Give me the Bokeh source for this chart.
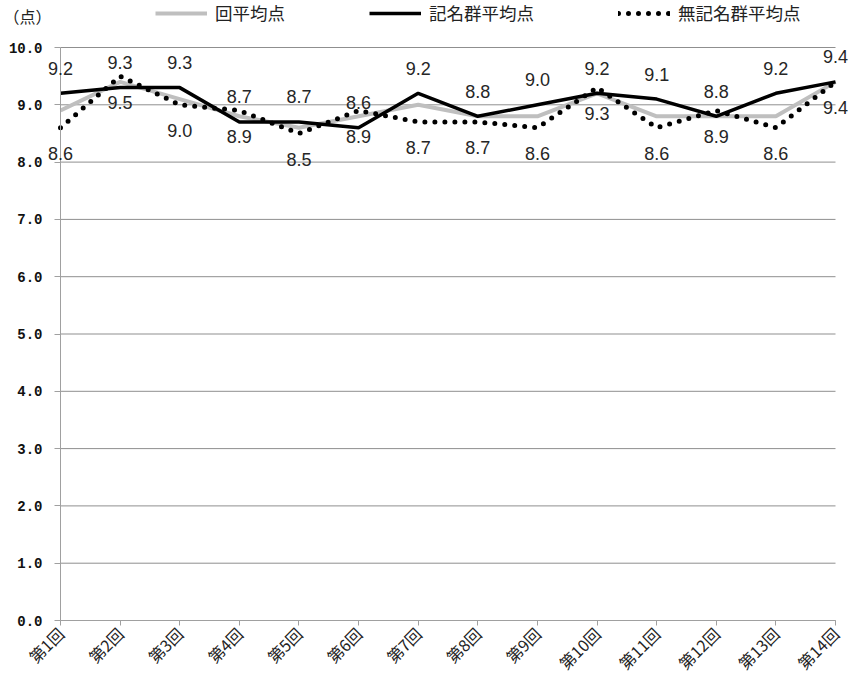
from math import pi

from bokeh.plotting import figure
from bokeh.models import (ColumnDataSource, Range1d, FixedTicker, LabelSet,
                          Legend, LegendItem, Label, NumeralTickFormatter)
from bokeh.core.properties import value
from bokeh.embed import file_html
from bokeh.resources import INLINE

# 回 (session) numbers and the three average-score series
rounds = list(range(1, 15))
round_labels = [f"第{n}回" for n in rounds]
avg_all = [8.9, 9.4, 9.1, 8.8, 8.6, 8.8, 9.0, 8.8, 8.8, 9.2, 8.8, 8.8, 8.8, 9.4]
avg_named = [9.2, 9.3, 9.3, 8.7, 8.7, 8.6, 9.2, 8.8, 9.0, 9.2, 9.1, 8.8, 9.2, 9.4]
avg_anon = [8.6, 9.5, 9.0, 8.9, 8.5, 8.9, 8.7, 8.7, 8.6, 9.3, 8.6, 8.9, 8.6, 9.4]
y_ticks = [0, 1, 2, 3, 4, 5, 6, 7, 8, 9, 10]

W, H = 851, 675
# pixel placement of the plotting area inside the page
left_px, right_px, top_px, bottom_px = 60, 835, 47, 620
x_lo, x_hi = rounds[0], rounds[-1]
y_lo, y_hi = y_ticks[0], y_ticks[-1]
sx = (right_px - left_px) / (x_hi - x_lo)
sy = (bottom_px - top_px) / (y_hi - y_lo)

src = ColumnDataSource(dict(
    x=rounds,
    all=avg_all,
    named=avg_named,
    anon=avg_anon,
    named_txt=[f"{v:.1f}" for v in avg_named],
    anon_txt=[f"{v:.1f}" for v in avg_anon],
))

p = figure(width=W, height=H, output_backend="svg", toolbar_location=None,
           x_range=Range1d(x_lo - left_px / sx, x_hi + (W - right_px) / sx),
           y_range=Range1d(y_lo - (H - bottom_px) / sy, y_hi + top_px / sy),
           min_border=0)
p.outline_line_color = None
p.background_fill_color = "white"
p.border_fill_color = "white"
p.xgrid.visible = False
p.ygrid.visible = False

# horizontal gridlines at every tick value, spanning the category extent
p.segment(x0=[x_lo] * len(y_ticks), x1=[x_hi] * len(y_ticks),
          y0=y_ticks, y1=y_ticks, line_color="#8f8f8f", line_width=1)

# axes pinned to the data origin
p.xaxis.fixed_location = y_lo
p.xaxis.bounds = (x_lo, x_hi)
p.xaxis.ticker = FixedTicker(ticks=rounds)
p.xaxis.major_label_overrides = {n: lab for n, lab in zip(rounds, round_labels)}
p.xaxis.major_label_orientation = pi / 4
p.xaxis.major_label_text_font = "Noto Sans CJK JP"
p.xaxis.major_label_text_font_size = "16px"
p.xaxis.major_label_text_color = "#222222"
p.xaxis.axis_line_color = "#a0a0a0"
p.xaxis.major_tick_line_color = "#a0a0a0"
p.xaxis.major_tick_out = 5
p.xaxis.major_tick_in = 0
p.xaxis.minor_tick_line_color = None

p.yaxis.fixed_location = x_lo
p.yaxis.bounds = (y_lo, y_hi)
p.yaxis.ticker = FixedTicker(ticks=y_ticks)
p.yaxis.formatter = NumeralTickFormatter(format="0.0")
p.yaxis.major_label_text_font = "Liberation Mono"
p.yaxis.major_label_text_font_style = "bold"
p.yaxis.major_label_text_font_size = "14px"
p.yaxis.major_label_text_color = "#111111"
p.yaxis.axis_line_color = "#a0a0a0"
p.yaxis.major_tick_line_color = "#a0a0a0"
p.yaxis.major_tick_out = 6
p.yaxis.major_tick_in = 0
p.yaxis.minor_tick_line_color = None
p.yaxis.major_label_standoff = 12

# series
r_all = p.line("x", "all", source=src, line_color="#bfbfbf", line_width=4)
r_named = p.line("x", "named", source=src, line_color="black", line_width=3.5)
r_anon = p.line("x", "anon", source=src, line_color="black", line_width=5,
                line_dash="0 10", line_cap="round")

# value labels: named group above, anonymous group below
label_style = dict(text_font=value("Liberation Sans"), text_font_size="18px",
                   text_color="#262626", text_align="center",
                   text_baseline="middle")
p.add_layout(LabelSet(x="x", y="named", text="named_txt", source=src,
                      y_offset=25, **label_style))
p.add_layout(LabelSet(x="x", y="anon", text="anon_txt", source=src,
                      y_offset=-26, **label_style))

# legend across the top
legend = Legend(items=[
    LegendItem(label="回平均点", renderers=[r_all]),
    LegendItem(label="記名群平均点", renderers=[r_named]),
    LegendItem(label="無記名群平均点", renderers=[r_anon]),
], orientation="horizontal", location=(155, H - 25))
legend.label_text_font = "Noto Sans CJK JP"
legend.label_text_font_size = "17.5px"
legend.label_text_color = "#222222"
legend.glyph_width = 52
legend.glyph_height = 20
legend.label_standoff = 8
legend.spacing = 84
legend.padding = 0
legend.margin = 0
legend.border_line_color = None
legend.background_fill_alpha = 0
p.add_layout(legend)

p.add_layout(Label(x=3, y=H - 15, x_units="screen", y_units="screen",
                   text="（点）", text_font="Noto Sans CJK JP",
                   text_font_size="16px", text_color="#222222",
                   text_baseline="middle"))

open("out.html", "w").write(file_html(p, INLINE))
